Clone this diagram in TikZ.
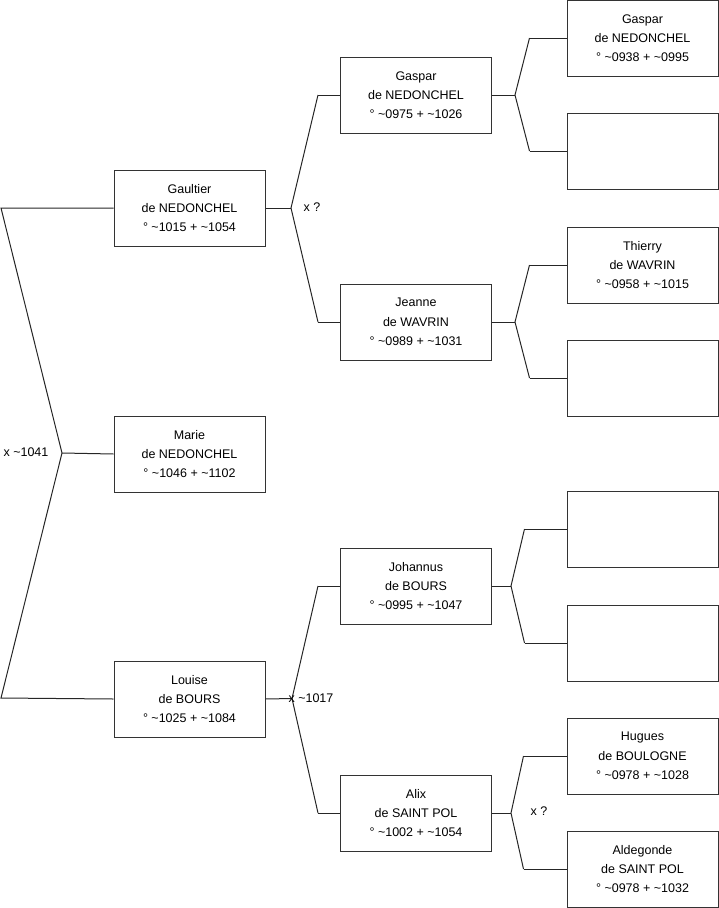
\documentclass[tikz,border=0pt]{standalone}
\usepackage{fontspec}
\setmainfont{Liberation Sans}
\newcommand{\tld}{\textasciitilde}
\tikzset{
  person/.style={draw=black!80, line width=1pt, rectangle, minimum width=151pt, minimum height=76pt,
    inner sep=0pt, align=center, font=\fontsize{12.5}{19.3}\selectfont, fill=white},
  link/.style={draw=black!85, line width=1pt},
  lbl/.style={font=\fontsize{12.5}{14}\selectfont, inner sep=0pt}
}
\begin{document}
\begin{tikzpicture}[x=1pt,y=-1pt]
\useasboundingbox (0,0) rectangle (719,908);
% left column
\node[person] (gaultier) at (189.5,208) {Gaultier\\de NEDONCHEL\\° \tld1015 + \tld1054};
\node[person] (marie) at (189.5,454) {Marie\\de NEDONCHEL\\° \tld1046 + \tld1102};
\node[person] (louise) at (189.5,699) {Louise\\de BOURS\\° \tld1025 + \tld1084};
% middle column
\node[person] (gaspar) at (416,95) {Gaspar\\de NEDONCHEL\\° \tld0975 + \tld1026};
\node[person] (jeanne) at (416,322) {Jeanne\\de WAVRIN\\° \tld0989 + \tld1031};
\node[person] (johannus) at (416,586) {Johannus\\de BOURS\\° \tld0995 + \tld1047};
\node[person] (alix) at (416,813) {Alix\\de SAINT POL\\° \tld1002 + \tld1054};
% right column
\node[person] (gaspar2) at (642.5,38) {Gaspar\\de NEDONCHEL\\° \tld0938 + \tld0995};
\node[person] (e1) at (642.5,151) {};
\node[person] (thierry) at (642.5,265) {Thierry\\de WAVRIN\\° \tld0958 + \tld1015};
\node[person] (e2) at (642.5,378) {};
\node[person] (e3) at (642.5,529) {};
\node[person] (e4) at (642.5,643) {};
\node[person] (hugues) at (642.5,756) {Hugues\\de BOULOGNE\\° \tld0978 + \tld1028};
\node[person] (aldegonde) at (642.5,869) {Aldegonde\\de SAINT POL\\° \tld0978 + \tld1032};
% forks
\coordinate (f0) at (62,453);
\coordinate (lt) at (1,208);
\coordinate (lb) at (1,698);
\draw[link] (gaultier.west) -- (lt) -- (f0) -- (lb) -- (louise.west);
\draw[link] (f0) -- (marie.west);
\node[lbl] (l0) at (26,452) {x \tld1041};

\coordinate (f1) at (291,208);
\draw[link] (gaultier.east) -- (f1);
\draw[link] ([xshift=-22pt]gaspar.west) -- (f1) -- ([xshift=-22pt]jeanne.west);
\draw[link] ([xshift=-22pt]gaspar.west) -- (gaspar.west);
\draw[link] ([xshift=-22pt]jeanne.west) -- (jeanne.west);
\node[lbl] (l1) at (312,207) {x ?};

\coordinate (f2) at (292,698.5);
\draw[link] (louise.east) -- (f2);
\draw[link] ([xshift=-22pt]johannus.west) -- (f2) -- ([xshift=-22pt]alix.west);
\draw[link] ([xshift=-22pt]johannus.west) -- (johannus.west);
\draw[link] ([xshift=-22pt]alix.west) -- (alix.west);
\node[lbl] (l2) at (311,698) {x \tld1017};

\coordinate (f3) at (515,95);
\draw[link] (gaspar.east) -- (f3);
\draw[link] ([xshift=-37pt]gaspar2.west) -- (f3) -- ([xshift=-37pt]e1.west);
\draw[link] ([xshift=-37pt]gaspar2.west) -- (gaspar2.west);
\draw[link] ([xshift=-37pt]e1.west) -- (e1.west);

\coordinate (f4) at (515,322);
\draw[link] (jeanne.east) -- (f4);
\draw[link] ([xshift=-37pt]thierry.west) -- (f4) -- ([xshift=-37pt]e2.west);
\draw[link] ([xshift=-37pt]thierry.west) -- (thierry.west);
\draw[link] ([xshift=-37pt]e2.west) -- (e2.west);

\coordinate (f5) at (511,586);
\draw[link] (johannus.east) -- (f5);
\draw[link] ([xshift=-42pt]e3.west) -- (f5) -- ([xshift=-42pt]e4.west);
\draw[link] ([xshift=-42pt]e3.west) -- (e3.west);
\draw[link] ([xshift=-42pt]e4.west) -- (e4.west);

\coordinate (f6) at (511,813);
\draw[link] (alix.east) -- (f6);
\draw[link] ([xshift=-43pt]hugues.west) -- (f6) -- ([xshift=-43pt]aldegonde.west);
\draw[link] ([xshift=-43pt]hugues.west) -- (hugues.west);
\draw[link] ([xshift=-43pt]aldegonde.west) -- (aldegonde.west);
\node[lbl] (l3) at (539,811) {x ?};
\end{tikzpicture}
\end{document}
